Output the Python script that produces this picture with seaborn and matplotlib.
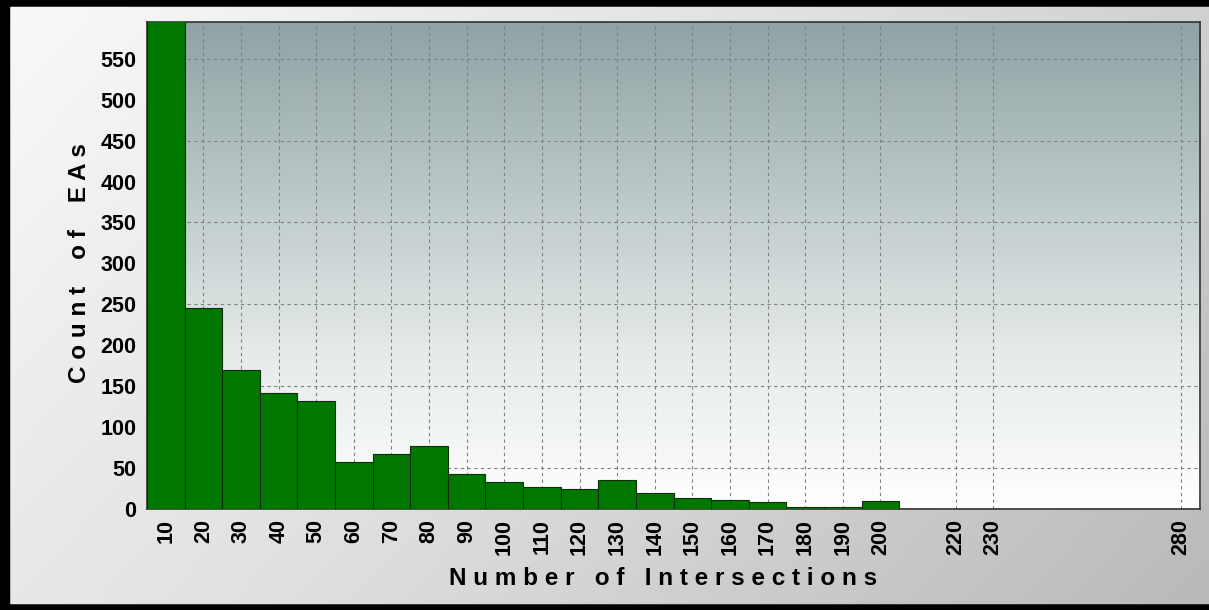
import numpy as np
import pandas as pd
import matplotlib
matplotlib.use("Agg")
import matplotlib.pyplot as plt
from matplotlib.colors import LinearSegmentedColormap
from matplotlib.ticker import MultipleLocator
import seaborn as sns

# bin centres (number of intersections) and counts
intersections = [10, 20, 30, 40, 50, 60, 70, 80, 90, 100, 110, 120, 130, 140,
                 150, 160, 170, 180, 190, 200, 220, 230, 280]
counts = [598, 246, 170, 142, 132, 58, 67, 77, 43, 33, 27, 25, 36, 19,
          14, 11, 8, 2, 2, 10, 0, 0, 0]
tick_labels = [str(v) for v in intersections]

df = pd.DataFrame({"Intersections": intersections, "Count": counts})

sns.set_style("white")
plt.rcParams['font.family'] = ['Liberation Sans', 'DejaVu Sans']
plt.rcParams['font.weight'] = 'bold'
plt.rcParams['text.color'] = 'black'
plt.rcParams['xtick.color'] = '#444444'
plt.rcParams['ytick.color'] = '#444444'
plt.rcParams['xtick.labelcolor'] = 'black'
plt.rcParams['ytick.labelcolor'] = 'black'
plt.rcParams['axes.labelcolor'] = 'black'

fig = plt.figure(figsize=(12.09, 6.10), dpi=100)

# figure background: light top-left -> grey bottom-right
bg = fig.add_axes([0, 0, 1, 1], zorder=-10)
gx, gy = np.meshgrid(np.linspace(0, 1, 300), np.linspace(0, 1, 150))
grad = 0.75 * gx + 0.35 * gy
bg_cmap = LinearSegmentedColormap.from_list("bgc", ["#f9f9f9", "#dedede", "#b9b9b9"])
bg.imshow(grad, cmap=bg_cmap, aspect="auto", extent=[0, 1, 0, 1], origin="upper")
bg.set_axis_off()
# black frame on top/left/bottom
bg.plot([0, 0], [0, 1], color="black", lw=14, transform=bg.transAxes, clip_on=True)
bg.plot([0, 1], [1, 1], color="black", lw=9, transform=bg.transAxes, clip_on=True)
bg.plot([0, 1], [0, 0], color="black", lw=9, transform=bg.transAxes, clip_on=True)
bg.set_xlim(0, 1)
bg.set_ylim(0, 1)

ax = fig.add_axes([0.1216, 0.1656, 0.8710, 0.7984])

# plot area gradient: grey-teal at top -> white at bottom
ax_cmap = LinearSegmentedColormap.from_list("axc", ["#8fa2a4", "#b9c6c6", "#e4e9e9", "#ffffff"])
ax.imshow(np.linspace(0, 1, 256).reshape(-1, 1), cmap=ax_cmap, aspect="auto",
          extent=[5, 285, 0, 595], origin="upper", zorder=0)

sns.histplot(data=df, x="Intersections", weights="Count", binwidth=10, binrange=(5, 285),
             ax=ax, color="#007800", edgecolor="#0b2e0b", linewidth=0.8, alpha=1.0, zorder=3)

ax.set_xlim(5, 285)
ax.set_ylim(0, 595)
ax.set_xticks(intersections)
ax.set_xticklabels(tick_labels, rotation=90, fontsize=15.5, fontweight="bold")
ax.set_yticks(np.arange(0, 600, 50))
ax.tick_params(axis="y", labelsize=15.5, length=4, width=1, direction="out")
ax.tick_params(axis="x", length=4, width=1, direction="out")
for lab in ax.get_yticklabels():
    lab.set_fontweight("bold")
ax.yaxis.set_minor_locator(MultipleLocator(25))
ax.xaxis.set_minor_locator(MultipleLocator(12.5))
ax.tick_params(which="minor", length=3, color="#777777")

# dashed grid
for xv in intersections:
    ax.axvline(xv, color="#808080", lw=0.8, ls=(0, (3, 3)), zorder=1)
for yv in np.arange(50, 600, 100):
    ax.axhline(yv, color="#808080", lw=0.8, ls=(0, (3, 3)), zorder=1)

for s in ax.spines.values():
    s.set_color("#333333")
    s.set_linewidth(1.2)

ax.set_xlabel("N u m b e r   o f   I n t e r s e c t i o n s", fontsize=17.5,
              fontweight="bold", labelpad=8)
ax.set_ylabel("C o u n t    o f    E A s", fontsize=17.5, fontweight="bold", labelpad=7)
ax.xaxis.label.set_x(0.4905)
ax.yaxis.label.set_y(0.505)

fig.savefig("out.png", dpi=100)
